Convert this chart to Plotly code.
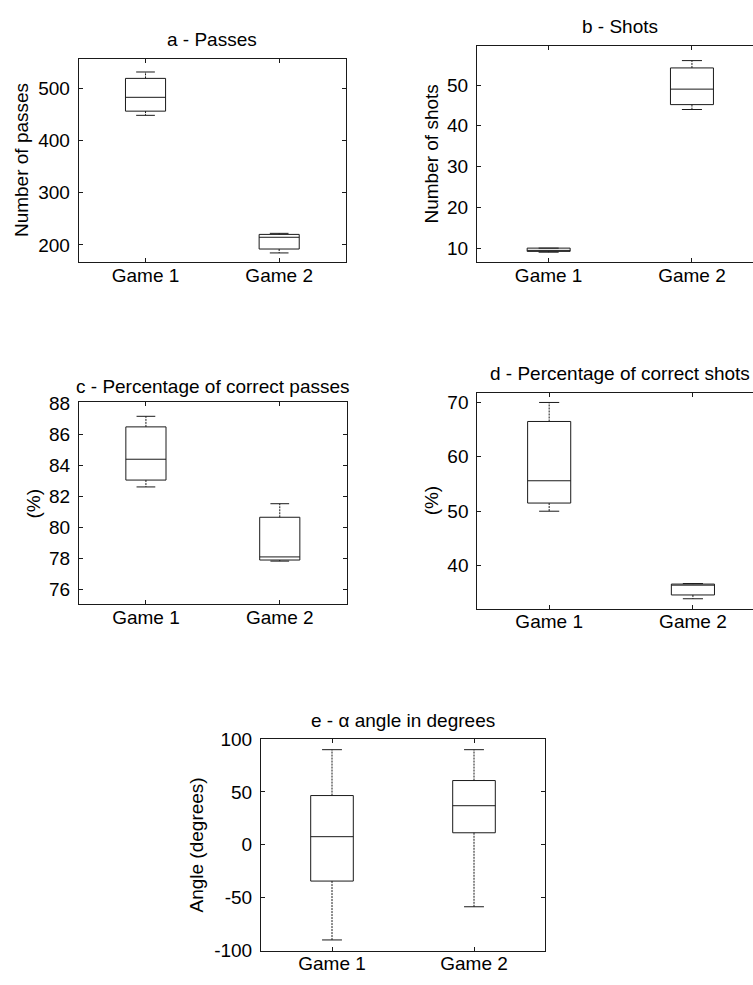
import plotly.graph_objects as go

W, H = 753, 985

categories = ["Game 1", "Game 2"]
cat_pos = [1, 2]

# a - Passes
passes_lower = [448, 184.5]
passes_q1 = [456, 192]
passes_median = [482.5, 214.5]
passes_q3 = [518.75, 220]
passes_upper = [531, 222]

# b - Shots
shots_lower = [9.0, 44.0]
shots_q1 = [9.2, 45.2]
shots_median = [9.4, 49.0]
shots_q3 = [10.0, 54.2]
shots_upper = [10.0, 56.0]

# c - Percentage of correct passes
pcp_lower = [82.6, 77.83]
pcp_q1 = [83.04, 77.9]
pcp_median = [84.38, 78.1]
pcp_q3 = [86.46, 80.65]
pcp_upper = [87.14, 81.52]

# d - Percentage of correct shots
pcs_lower = [50.0, 33.9]
pcs_q1 = [51.5, 34.6]
pcs_median = [55.6, 36.4]
pcs_q3 = [66.5, 36.6]
pcs_upper = [70.0, 36.7]

# e - alpha angle in degrees
angle_lower = [-90.0, -58.6]
angle_q1 = [-34.3, 11.4]
angle_median = [7.7, 37.0]
angle_q3 = [46.6, 60.8]
angle_upper = [90.0, 90.0]

passes_ticks = [200, 300, 400, 500]
shots_ticks = [10, 20, 30, 40, 50]
pcp_ticks = [76, 78, 80, 82, 84, 86, 88]
pcs_ticks = [40, 50, 60, 70]
angle_ticks = [-100, -50, 0, 50, 100]
angle_tick_labels = ["-100", "-50", "0", "50", "100"]

FONT = "Liberation Sans, Arial, sans-serif"
FS = 19
LINE = "#1a1a1a"


def px_x(p):
    return p / W


def px_y(p):
    return 1 - p / H


panels = [
    dict(name="a - Passes", ylab="Number of passes",
         data=(passes_lower, passes_q1, passes_median, passes_q3, passes_upper),
         ticks=passes_ticks, labels=None, yr=[167.5, 556], xr=[0.5, 2.5],
         dom=(78.7, 346, 50, 257.3), title_pos=(212, 30.5), ylab_x=21.7, mirror_y=True),
    dict(name="b - Shots", ylab="Number of shots",
         data=(shots_lower, shots_q1, shots_median, shots_q3, shots_upper),
         ticks=shots_ticks, labels=None, yr=[6.64, 59.6], xr=[0.5, 2.426],
         dom=(477, 753, 36.7, 257.3), title_pos=(620, 17), ylab_x=431.7, mirror_y=False),
    dict(name="c - Percentage of correct passes", ylab="(%)",
         data=(pcp_lower, pcp_q1, pcp_median, pcp_q3, pcp_upper),
         ticks=pcp_ticks, labels=None, yr=[75.05, 88.05], xr=[0.5, 2.5],
         dom=(79, 346.7, 400.7, 607.3), title_pos=(212.8, 385), ylab_x=33.3, mirror_y=True),
    dict(name="d - Percentage of correct shots", ylab="(%)",
         data=(pcs_lower, pcs_q1, pcs_median, pcs_q3, pcs_upper),
         ticks=pcs_ticks, labels=None, yr=[32.08, 71.8], xr=[0.5, 2.418],
         dom=(477.3, 753, 391, 611.7), title_pos=(620.3, 371), ylab_x=431.7, mirror_y=False),
    dict(name="e - \u03b1 angle in degrees", ylab="Angle (degrees)",
         data=(angle_lower, angle_q1, angle_median, angle_q3, angle_upper),
         ticks=angle_ticks, labels=angle_tick_labels, yr=[-100, 100], xr=[0.5, 2.5],
         dom=(261, 545, 745, 961), title_pos=(402.5, 726), ylab_x=196.7, mirror_y=True),
]

fig = go.Figure()
annotations = []
layout_axes = {}
CAP = 0.07

for i, p in enumerate(panels):
    n = "" if i == 0 else str(i + 1)
    xa, ya = "x" + n, "y" + n
    lo, q1, med, q3, up = p["data"]

    fig.add_trace(go.Box(
        x=cat_pos, q1=q1, median=med, q3=q3, lowerfence=q1, upperfence=q3,
        width=0.3, whiskerwidth=0, fillcolor="white",
        line=dict(color=LINE, width=1), xaxis=xa, yaxis=ya,
        showlegend=False, hoverinfo="skip", boxpoints=False,
    ))
    wx, wy = [], []
    cx, cy = [], []
    for c, a, b, l, u in zip(cat_pos, q1, q3, lo, up):
        wx += [c, c, None, c, c, None]
        wy += [b, u, None, a, l, None]
        cx += [c - CAP, c + CAP, None, c - CAP, c + CAP, None]
        cy += [u, u, None, l, l, None]
    fig.add_trace(go.Scatter(x=wx, y=wy, mode="lines", xaxis=xa, yaxis=ya,
                             line=dict(color=LINE, width=1, dash="2px,1px"),
                             showlegend=False, hoverinfo="skip"))
    fig.add_trace(go.Scatter(x=cx, y=cy, mode="lines", xaxis=xa, yaxis=ya,
                             line=dict(color=LINE, width=1),
                             showlegend=False, hoverinfo="skip"))

    x0, x1, y0, y1 = p["dom"]
    layout_axes["xaxis" + n] = dict(
        domain=[px_x(x0), min(px_x(x1), 1.0)], range=p["xr"], anchor=ya,
        tickvals=cat_pos, ticktext=categories, ticks="inside", ticklen=4,
        tickcolor=LINE, showline=True, linecolor=LINE, linewidth=1,
        mirror="ticks", showgrid=False, zeroline=False, ticklabelstandoff=-4,
        tickfont=dict(family=FONT, size=FS, color="black"),
    )
    yax = dict(
        domain=[px_y(y1), px_y(y0)], range=p["yr"], anchor=xa,
        tickvals=p["ticks"], ticks="inside", ticklen=4, tickcolor=LINE,
        showline=True, linecolor=LINE, linewidth=1,
        mirror="ticks" if p["mirror_y"] else False,
        showgrid=False, zeroline=False, ticklabelstandoff=4,
        tickfont=dict(family=FONT, size=FS, color="black"),
    )
    if p["labels"] is not None:
        yax["ticktext"] = p["labels"]
    layout_axes["yaxis" + n] = yax
    tx, ty = p["title_pos"]
    annotations.append(dict(
        text=p["name"], x=px_x(tx), y=px_y(ty), xref="paper", yref="paper",
        xanchor="center", yanchor="middle", showarrow=False,
        font=dict(family=FONT, size=FS, color="black"),
    ))
    annotations.append(dict(
        text=p["ylab"], x=px_x(p["ylab_x"]), y=px_y((y0 + y1) / 2),
        xref="paper", yref="paper", xanchor="center", yanchor="middle",
        textangle=-90, showarrow=False,
        font=dict(family=FONT, size=FS, color="black"),
    ))

fig.update_layout(
    width=W, height=H, autosize=False, margin=dict(l=0, r=0, t=0, b=0),
    paper_bgcolor="white", plot_bgcolor="white",
    annotations=annotations, showlegend=False, **layout_axes,
)

fig.write_html(
    "out.html",
    config={"displayModeBar": False, "responsive": False},
    post_script="document.documentElement.style.margin='0';document.body.style.margin='0';document.body.style.overflow='hidden';",
)
